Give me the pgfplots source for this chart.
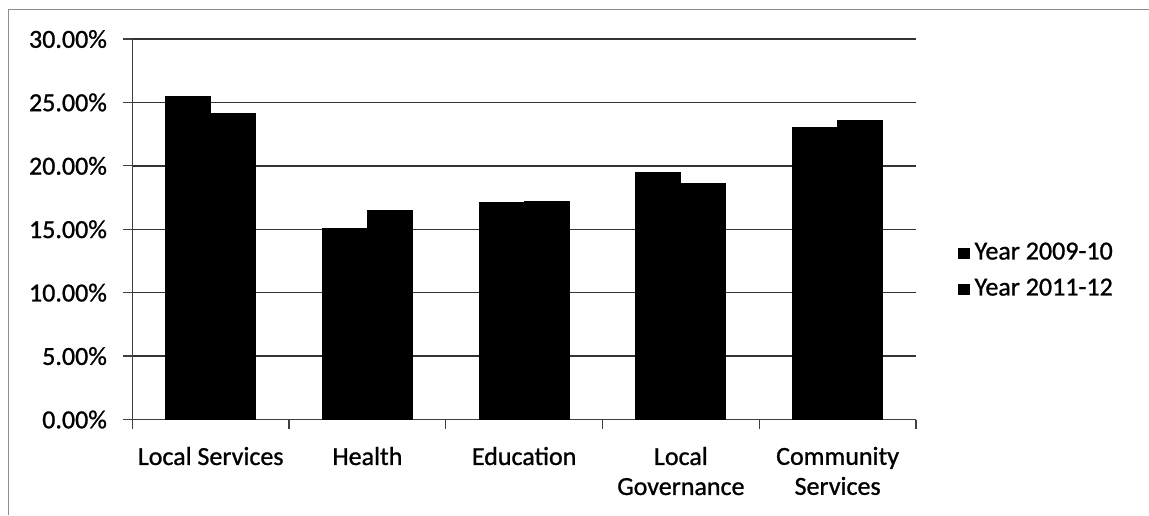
\documentclass[border=0pt]{standalone}
\usepackage{fontspec}
\setmainfont{Carlito}
\usepackage{pgfplots}
\pgfplotsset{compat=1.18}

\pgfplotstableread{
x  y0910  y1112
0  25.46  24.15
1  15.08  16.47
2  17.10  17.18
3  19.46  18.60
4  23.04  23.60
}\shares

\newcommand{\lblfont}{\fontsize{13}{15}\selectfont\addfontfeature{FakeBold=1}}

\begin{document}
\begin{tikzpicture}
\begin{axis}[
  at={(66.15pt,47.75pt)}, anchor=south west,
  scale only axis,
  width=391.85pt, height=190.25pt,
  ybar=0pt, bar width=22.5pt,
  xmin=-0.5, xmax=4.5,
  ymin=0, ymax=30,
  axis x line*=bottom, axis y line*=left,
  axis line style={black!75, line width=0.6pt},
  xtick={-0.5,0.5,...,4.5},
  xticklabels={},
  extra x ticks={0,1,2,3,4},
  extra x tick labels={Local Services, Health, Education, {Local\\Governance}, {Community\\Services}},
  extra x tick style={major tick length=0pt, grid=none},
  ytick={0,5,...,30},
  tick align=outside, major tick length=4.5pt,
  tick style={black!75, line width=0.6pt},
  ymajorgrids, grid style={black!80, line width=0.7pt},
  yticklabel={\pgfmathprintnumber[fixed,fixed zerofill,precision=2]{\tick}\%},
  /pgf/number format/assume math mode=true,
  yticklabel style={font=\lblfont, anchor=east, inner sep=0pt, xshift=-8pt},
  xticklabel style={font=\lblfont, align=center, anchor=north, inner sep=0pt, yshift=-13.5pt},
  legend image code/.code={\fill[black] (0pt,-2.6pt) rectangle (5.2pt,2.6pt);},
  legend style={at={(1.0536,0.389)}, anchor=west, draw=none, fill=none,
    inner sep=0pt, row sep=6pt, font=\lblfont,
    nodes={inner sep=0pt, text height=9pt, text depth=3pt},
    /tikz/every odd column/.append style={column sep=2.5pt}},
  legend cell align=left,
]
\addplot[fill=black, draw=black, line width=0.4pt] table[x=x, y=y0910] {\shares};
\addlegendentry{Year 2009-10}
\addplot[fill=black, draw=black, line width=0.4pt] table[x=x, y=y1112] {\shares};
\addlegendentry{Year 2011-12}
\end{axis}
% chart area frame
\draw[black!45, line width=0.5pt] (4pt,0pt) -- (4pt,252.5pt) -- (574.5pt,252.5pt);
\pgfresetboundingbox
\path[use as bounding box] (0,0) rectangle (574.5pt,257.5pt);
\end{tikzpicture}
\end{document}
